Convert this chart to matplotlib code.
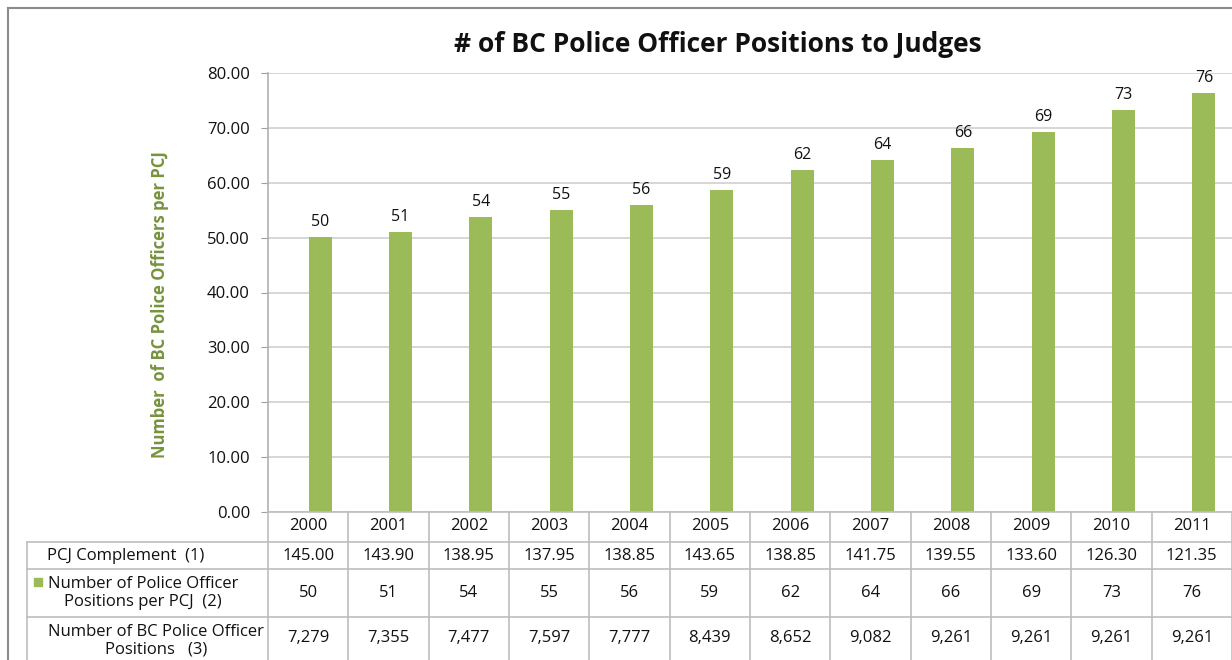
import matplotlib
matplotlib.use("Agg")
import matplotlib.pyplot as plt
from matplotlib.lines import Line2D
from matplotlib.patches import Rectangle
import numpy as np

plt.rcParams['font.family'] = ['Open Sans', 'DejaVu Sans']

# data
years = ['2000', '2001', '2002', '2003', '2004', '2005',
         '2006', '2007', '2008', '2009', '2010', '2011']
officers_per_pcj = [50.2, 51.1, 53.8, 55.1, 56.0, 58.7,
                    62.3, 64.1, 66.4, 69.3, 73.3, 76.3]
pcj_complement = ['145.00', '143.90', '138.95', '137.95', '138.85', '143.65',
                  '138.85', '141.75', '139.55', '133.60', '126.30', '121.35']
officer_positions = ['7,279', '7,355', '7,477', '7,597', '7,777', '8,439',
                     '8,652', '9,082', '9,261', '9,261', '9,261', '9,261']
row_labels = ['PCJ Complement  (1)',
              'Number of Police Officer\nPositions per PCJ  (2)',
              'Number of BC Police Officer\nPositions   (3)']

green = '#9BBB59'
grid = '#CFCFCF'
W, H = 1232, 660

fig = plt.figure(figsize=(W / 100, H / 100), dpi=100)

# main plot
ax = fig.add_axes([268 / W, (H - 512) / H, (W - 268) / W, (512 - 73) / H])
x = np.arange(len(years))
ax.bar(x + 0.15, officers_per_pcj, width=0.285, color=green, zorder=3)
for xi, v in zip(x, officers_per_pcj):
    ax.annotate(f'{round(v)}', (xi + 0.15, v), xytext=(0, 5),
                textcoords='offset points', ha='center', va='bottom',
                fontsize=11.5, color='#111111')
ax.set_xlim(-0.5, 11.5)
ax.set_ylim(0, 80)
ax.set_yticks(np.arange(0, 81, 10))
ax.set_yticklabels([f'{t:.2f}' for t in np.arange(0, 81, 10)])
ax.tick_params(axis='y', length=5, color='#A0A0A0', labelsize=12,
               labelcolor='#111111', pad=8)
ax.set_xticks([])
ax.grid(axis='y', color=grid, linewidth=1.2, zorder=0)
for s in ['top', 'right', 'bottom']:
    ax.spines[s].set_visible(False)
ax.spines['left'].set_color('#B0B0B0')
ax.spines['left'].set_linewidth(1.2)

fig.text(718 / W, (H - 44) / H, '# of BC Police Officer Positions to Judges',
         ha='center', va='center', fontsize=19, fontweight='bold',
         color='#111111')
fig.text(160 / W, (H - 305) / H, 'Number  of BC Police Officers per PCJ',
         ha='center', va='center', rotation=90, fontsize=12,
         fontweight='bold', color='#77933C')

# data table below
tab = fig.add_axes([27 / W, 0, (W - 27) / W, (H - 512) / H])
tab.set_xlim(-3.5, 11.5)
tab.set_ylim(H, 512)
tab.axis('off')
line_c = '#BDBDBD'
rows_y = [512, 541.7, 569.3, 617]
tab.plot([-0.5, 11.5], [512, 512], color=line_c, lw=1.2, clip_on=False)
for yy in rows_y[1:]:
    tab.plot([-3.5, 11.5], [yy, yy], color=line_c, lw=1.2, clip_on=False)
tab.plot([-3.5, -3.5], [rows_y[1], H], color=line_c, lw=1.2, clip_on=False)
for k in range(len(years) + 1):
    tab.plot([k - 0.5, k - 0.5], [512, H], color=line_c, lw=1.2, clip_on=False)

fs = 12
for xi, yr, c, v, p in zip(x, years, pcj_complement, officers_per_pcj,
                           officer_positions):
    tab.text(xi, 526.5, yr, ha='center', va='center', fontsize=fs, color='#111111')
    tab.text(xi, 555.5, c, ha='center', va='center', fontsize=fs, color='#111111')
    tab.text(xi, 593, f'{round(v)}', ha='center', va='center', fontsize=fs, color='#111111')
    tab.text(xi, 638, p, ha='center', va='center', fontsize=fs, color='#111111')

tab.text(-3.5 + 20 / 80.33, 555.5, row_labels[0], ha='left', va='center',
         fontsize=fs, color='#111111')
tab.text(-3.5 + 116 / 80.33, 593, row_labels[1], ha='center', va='center',
         fontsize=fs, color='#111111', multialignment='center',
         linespacing=1.1)
tab.text(-3.5 + 129 / 80.33, 641, row_labels[2], ha='center', va='center',
         fontsize=fs, color='#111111', multialignment='center',
         linespacing=1.1)
tab.add_patch(Rectangle((-3.5 + 7 / 80.33, 586), 8 / 80.33, -8.5,
                        color=green, clip_on=False))

# outer chart frame
fig.add_artist(Line2D([8 / W, 8 / W], [0, (H - 8) / H],
                      transform=fig.transFigure, color='#8C8C8C', lw=1.5))
fig.add_artist(Line2D([8 / W, 1], [(H - 8) / H, (H - 8) / H],
                      transform=fig.transFigure, color='#8C8C8C', lw=1.5))

fig.savefig('out.png', dpi=100)
